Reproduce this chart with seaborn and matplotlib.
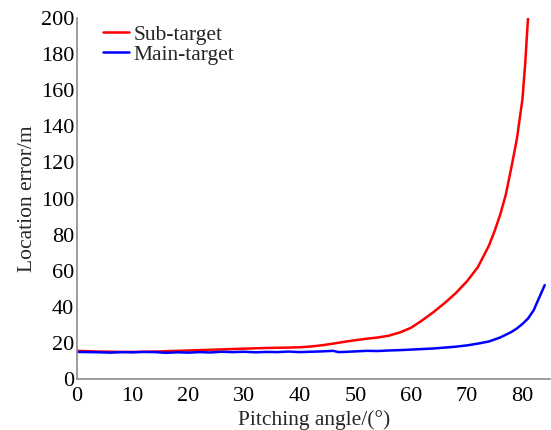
import numpy as np
import pandas as pd
import matplotlib
matplotlib.use("Agg")
import matplotlib.pyplot as plt
import seaborn as sns

# Pitching angle (degrees) and location error (m) for the two targets
sub_angle = [0, 2, 4, 6, 8, 10, 12, 14, 16, 18, 20, 22, 24, 26, 28, 30, 32, 34, 36, 38,
             40, 42, 44, 46, 48, 50, 52, 54, 56, 58, 60, 62, 64, 66, 68, 70, 72, 74,
             75, 76, 77, 78, 79, 80, 80.5, 81]
sub_error = [15.6, 15.4, 15.2, 15.1, 15.0, 15.0, 15.1, 15.2, 15.4, 15.6, 15.8, 16.0, 16.2,
             16.4, 16.6, 16.8, 17.0, 17.2, 17.3, 17.4, 17.6, 18.0, 18.7, 19.6, 20.6, 21.5,
             22.3, 23.0, 24.0, 25.8, 28.4, 32.5, 37.0, 42.0, 47.5, 54.0, 62.0, 74.0, 82.0,
             91.0, 102.0, 117.0, 133.0, 155.0, 175.0, 200.0]

main_angle = [0, 2, 4, 6, 8, 10, 12, 14, 16, 18, 20, 22, 24, 26, 28, 30, 32, 34, 36, 38,
              40, 42, 44, 46, 47, 48, 50, 52, 54, 56, 58, 60, 62, 64, 66, 68, 70, 72, 74,
              76, 78, 79, 80, 81, 82, 83, 84]
main_error = [15.0, 14.9, 14.8, 14.6, 14.9, 14.8, 15.0, 14.9, 14.5, 14.8, 14.6, 14.9, 14.7,
              15.1, 14.9, 15.1, 14.8, 15.0, 14.9, 15.2, 14.9, 15.1, 15.3, 15.6, 14.9, 15.0,
              15.3, 15.6, 15.5, 15.8, 16.0, 16.3, 16.6, 16.9, 17.4, 17.9, 18.6, 19.6, 20.8,
              23.0, 26.0, 28.0, 30.5, 33.5, 38.0, 45.0, 52.0]

series_names = ["Sub-target", "Main-target"]
series_colors = ["#ff0000", "#0000ff"]

x_ticks = [0, 10, 20, 30, 40, 50, 60, 70, 80]
y_ticks = [0, 20, 40, 60, 80, 100, 120, 140, 160, 180, 200]

df = pd.concat([
    pd.DataFrame({"angle": sub_angle, "error": sub_error, "target": series_names[0]}),
    pd.DataFrame({"angle": main_angle, "error": main_error, "target": series_names[1]}),
], ignore_index=True)

sns.set_style("white")
plt.rcParams["font.family"] = ["Liberation Serif", "DejaVu Serif"]
plt.rcParams["mathtext.fontset"] = "stix"

fig = plt.figure(figsize=(5.51, 4.30), dpi=100)
ax = fig.add_axes([0.1397, 0.1186, 0.859, 0.8395])

sns.lineplot(data=df, x="angle", y="error", hue="target", hue_order=series_names,
             palette=series_colors, linewidth=1.8, ax=ax, sort=False, estimator=None)

ax.set_xlim(0, 85)
ax.set_ylim(0, 200)
ax.set_xticks(x_ticks)
ax.set_yticks(y_ticks)
ax.set_xlabel("Pitching angle/(°)", fontsize=15.5, labelpad=3)
ax.set_ylabel("Location error/m", fontsize=15.5, labelpad=3)

for side in ["top", "right"]:
    ax.spines[side].set_visible(False)
for side in ["left", "bottom"]:
    ax.spines[side].set_color("#8c8c8c")
    ax.spines[side].set_linewidth(1.2)
ax.tick_params(direction="in", length=4, width=1, color="#8c8c8c",
               labelsize=16, labelcolor="black")
ax.tick_params(axis="x", pad=6)
ax.tick_params(axis="y", pad=2)

leg = ax.legend(loc="upper left", bbox_to_anchor=(0.033, 1.012), frameon=False,
                fontsize=15.5, handlelength=1.2, handletextpad=0.2,
                labelspacing=0.0, borderaxespad=0.1)

fig.savefig("out.png", dpi=100)
